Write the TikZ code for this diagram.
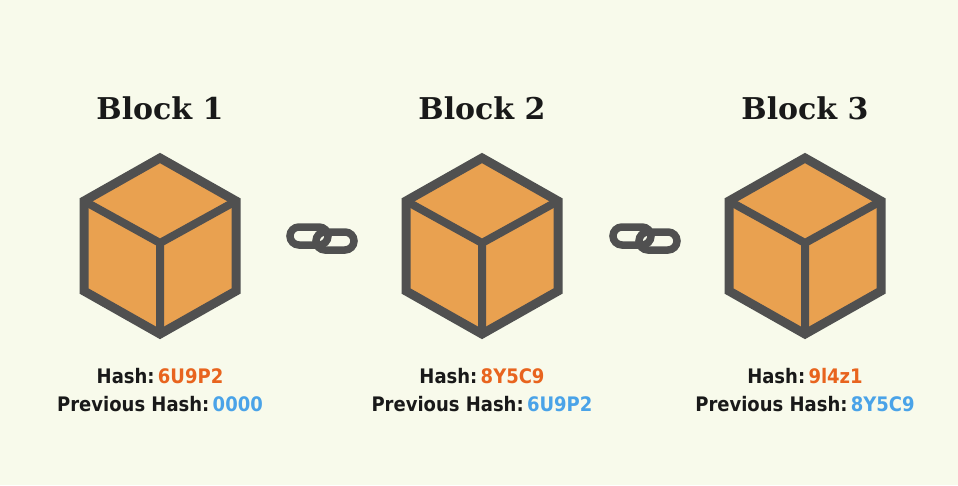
\documentclass[tikz,border=0pt]{standalone}
\usepackage{fontspec}
\newfontfamily\titlefont{DejaVu Serif}
\newfontfamily\hashfont{DejaVu Sans Condensed}
\definecolor{bg}{HTML}{F8FAEB}
\definecolor{cubefill}{HTML}{E9A150}
\definecolor{cubeline}{HTML}{505050}
\definecolor{hashorange}{HTML}{E8641E}
\definecolor{hashblue}{HTML}{4AA3E8}
\tikzset{
  cubeedge/.style={draw=cubeline,line width=9pt,line join=miter,fill=cubefill},
  titletext/.style={font=\titlefont\bfseries\fontsize{30}{34}\selectfont,text=black!90},
  hashtext/.style={font=\hashfont\bfseries\fontsize{20}{23}\selectfont,text=black!90,align=center},
  linkring/.style={draw=cubeline,line width=7.5pt,rounded corners=9pt}
}
\begin{document}
\begin{tikzpicture}[x=1pt,y=-1pt]
\fill[bg] (0,0) rectangle (958,485);
\useasboundingbox (0,0) rectangle (958,485);
\foreach \cx/\n/\h/\p in {160/1/6U9P2/0000, 482/2/8Y5C9/6U9P2, 805/3/9l4z1/8Y5C9}{
  \node[titletext] (title\n) at (\cx,108) {Block \n};
  \draw[cubeedge] (\cx,158) -- (\cx+76,201) -- (\cx+76,291) -- (\cx,334) -- (\cx-76,291) -- (\cx-76,201) -- cycle;
  \draw[cubeline,line width=8pt] (\cx-76,201) -- (\cx,243) -- (\cx+76,201) (\cx,243) -- (\cx,334);
  \node[hashtext] (hash\n) at (\cx,376) {Hash:\,\textcolor{hashorange}{\h}};
  \node[hashtext] (prev\n) at (\cx,404) {Previous Hash:\,\textcolor{hashblue}{\p}};
}
\foreach \lx/\n in {322/a, 645/b}{
  \coordinate (link\n) at (\lx,238);
  \draw[linkring] (\lx-32,227) rectangle (\lx+6,245);
  \draw[linkring] (\lx-6,232) rectangle (\lx+32,250);
}
\end{tikzpicture}
\end{document}
